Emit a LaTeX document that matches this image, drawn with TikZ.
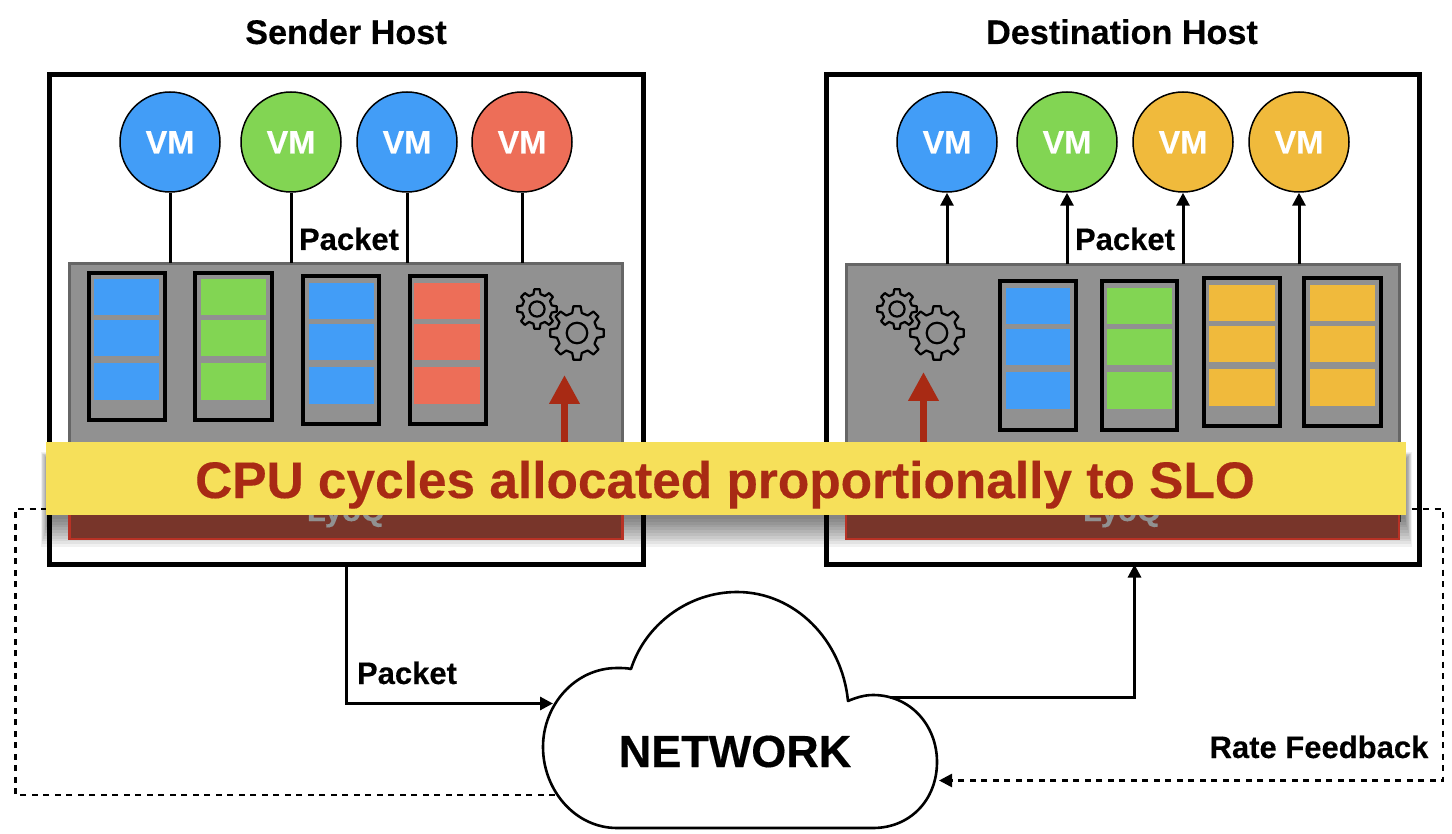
\documentclass[tikz,border=0pt]{standalone}
\usepackage{fontspec}
\setmainfont[BoldFeatures={FakeBold=0.3}]{Liberation Sans}
\usetikzlibrary{arrows.meta}
\definecolor{vmblue}{HTML}{429DF7}
\definecolor{vmgreen}{HTML}{82D553}
\definecolor{vmred}{HTML}{ED6E58}
\definecolor{vmyellow}{HTML}{F0BA3C}
\definecolor{panelgrey}{HTML}{919191}
\definecolor{paneledge}{HTML}{666666}
\definecolor{bandfill}{HTML}{78352A}
\definecolor{bandedge}{HTML}{B83225}
\definecolor{bannerfill}{HTML}{F6E05A}
\definecolor{bannertext}{HTML}{A82A14}
\newcommand{\fs}[1]{\fontsize{#1}{#1}\selectfont\bfseries}
% name, x1, y1, x2, y2, style
\newcommand{\pxbox}[6]{\node[inner sep=0pt,outer sep=0pt,minimum width={(#4)-(#2)},minimum height={(#5)-(#3)},#6] (#1) at ({((#2)+(#4))/2},{((#3)+(#5))/2}) {};}
% queue: name, x1, y1, x2, y2, slot x1, slot x2, top of first slot, colour
\newcommand{\qcol}[9]{%
  \pxbox{#1}{#2}{#3}{#4}{#5}{queuebox}
  \pxbox{#1a}{#6}{#8}{#7}{(#8)+36}{fill=#9}
  \pxbox{#1b}{#6}{(#8)+41}{#7}{(#8)+77}{fill=#9}
  \pxbox{#1c}{#6}{(#8)+84}{#7}{(#8)+121}{fill=#9}
}
% gear: cx, cy, R, teeth
\newcommand{\gearicon}[4]{%
  \pgfmathsetmacro{\gs}{360/#4}
  \draw[gearline] ({#1+0.76*#3*cos(-0.30*\gs)},{#2+0.76*#3*sin(-0.30*\gs)})
    \foreach \i in {1,...,#4} {
      -- ({#1+#3*cos(\i*\gs-\gs-0.17*\gs)},{#2+#3*sin(\i*\gs-\gs-0.17*\gs)})
      -- ({#1+#3*cos(\i*\gs-\gs+0.17*\gs)},{#2+#3*sin(\i*\gs-\gs+0.17*\gs)})
      -- ({#1+0.76*#3*cos(\i*\gs-\gs+0.30*\gs)},{#2+0.76*#3*sin(\i*\gs-\gs+0.30*\gs)})
      -- ({#1+0.76*#3*cos(\i*\gs-0.30*\gs)},{#2+0.76*#3*sin(\i*\gs-0.30*\gs)})
    } -- cycle;
  \draw[gearline] (#1,#2) circle ({0.38*#3});
}
\tikzset{
  hostbox/.style={draw=black,line width=5pt,fill=white,sharp corners},
  panelbox/.style={draw=paneledge,line width=3pt,fill=panelgrey},
  bandbox/.style={draw=bandedge,line width=2.5pt,fill=bandfill},
  queuebox/.style={draw=black,line width=4pt},
  vmnode/.style={circle,draw=black,line width=1.5pt,minimum size=100pt,inner sep=0pt,text=white,font=\fs{32.5},text depth=0pt,text height=23pt},
  label/.style={anchor=base,inner sep=0pt,font=\fs{31}},
  title/.style={anchor=base,inner sep=0pt,font=\fs{34.2}},
  link/.style={draw=black,line width=3pt},
  arrowed/.style={link,-{Triangle[width=13pt,length=13pt]}},
  dashlink/.style={draw=black,line width=2.6pt,dash pattern=on 6pt off 5.5pt},
  redarrow/.style={draw=bannertext,line width=7pt,-{Triangle[width=29pt,length=29pt]}},
  gearline/.style={draw=black,line width=2.2pt,line join=round},
}
\begin{document}
\begin{tikzpicture}[x=1pt,y=-1pt]
\useasboundingbox (0,0) rectangle (1452,834);
\fill[white] (0,0) rectangle (1452,834);
% hosts
\pxbox{hostS}{49.5}{74.5}{643}{564.5}{hostbox}
\pxbox{hostD}{826.5}{74.5}{1419.5}{564.5}{hostbox}
\node[title] (titleS) at (346,44) {Sender Host};
\node[title] (titleD) at (1122,44) {Destination Host};
% panels
\pxbox{panelS}{69.5}{263.5}{622.5}{520}{panelbox}
\pxbox{panelD}{846}{264.5}{1399}{520}{panelbox}
% queues sender
\qcol{qa}{89}{273}{165}{420}{94}{159}{279}{vmblue}
\qcol{qb}{195}{273}{272}{420}{201}{266}{279}{vmgreen}
\qcol{qc}{303}{276}{379}{424}{309}{374}{283}{vmblue}
\qcol{qd}{410}{276}{486}{424}{414}{480}{283}{vmred}
% queues destination
\qcol{qe}{1000}{281}{1076}{430}{1006}{1070}{288}{vmblue}
\qcol{qf}{1102}{281}{1177}{430}{1107}{1172}{288}{vmgreen}
\qcol{qg}{1204}{278}{1280}{426}{1209}{1275}{285}{vmyellow}
\qcol{qh}{1304}{278}{1381}{426}{1310}{1375}{285}{vmyellow}
% gears
\gearicon{537}{309}{20}{8}
\gearicon{577}{333}{27}{8}
\gearicon{897}{309}{20}{8}
\gearicon{937}{333}{27}{8}
% red arrows
\coordinate (redS0) at (564.5,445);
\coordinate (redS1) at (564.5,375);
\coordinate (redD0) at (923.5,445);
\coordinate (redD1) at (923.5,372);
\draw[redarrow] (redS0) -- (redS1);
\draw[redarrow] (redD0) -- (redD1);
% VMs
\node[vmnode,fill=vmblue] (s1) at (170,142) {VM};
\node[vmnode,fill=vmgreen] (s2) at (291,142) {VM};
\node[vmnode,fill=vmblue] (s3) at (407,142) {VM};
\node[vmnode,fill=vmred] (s4) at (522,142) {VM};
\node[vmnode,fill=vmblue] (d1) at (947,142) {VM};
\node[vmnode,fill=vmgreen] (d2) at (1067,142) {VM};
\node[vmnode,fill=vmyellow] (d3) at (1183,142) {VM};
\node[vmnode,fill=vmyellow] (d4) at (1299,142) {VM};
\foreach \v in {s1,s2,s3,s4} \draw[link] (\v.south) -- (\v.south |- panelS.north);
\foreach \v in {d1,d2,d3,d4} \draw[arrowed] (\v.south |- panelD.north) -- (\v.south);
\node[label] (pktS) at (349,250) {Packet};
\node[label] (pktD) at (1125,250) {Packet};
% cloud
\draw[black,line width=2.6pt,fill=white,line join=round] (617,828)
  .. controls (575,828) and (543,790) .. (543,747)
  .. controls (543,705) and (575,668) .. (617,668)
  .. controls (622,668) and (627,668) .. (631,669)
  .. controls (645,625) and (688,592) .. (737,592)
  .. controls (795,592) and (842,640) .. (848,701)
  .. controls (855,698) and (864,695) .. (873,695)
  .. controls (910,695) and (937,725) .. (937,762)
  .. controls (937,800) and (910,828) .. (873,828)
  -- cycle;
\node[anchor=base,inner sep=0pt,font=\fs{45}] (network) at (735,767) {NETWORK};
\coordinate (cloudIn) at (553,703.5);
\coordinate (cloudOut) at (890,697);
\coordinate (cloudDashL) at (555,795);
\coordinate (cloudDashR) at (939,780.5);
\coordinate (sOut) at (346,703.5);
\coordinate (dIn) at (1134.5,697);
\draw[arrowed] (hostS.south -| sOut) -- (sOut) -- (cloudIn);
\draw[arrowed] (cloudOut) -- (dIn) -- (dIn |- hostD.south);
\node[label] (pktN) at (407,684) {Packet};
\node[label] (rate) at (1319,758) {Rate Feedback};
% dashed feedback
\coordinate (dl1) at (15.5,795);
\coordinate (dl2) at (15.5,509);
\coordinate (dl3) at (60,509);
\coordinate (dr1) at (1400,509);
\coordinate (dr2) at (1443,509);
\coordinate (dr3) at (1443,780.5);
\draw[dashlink] (cloudDashL) -- (dl1) -- (dl2) -- (dl3);
\draw[dashlink,-{Triangle[width=13pt,length=13pt]}] (dr1) -- (dr2) -- (dr3) -- (cloudDashR);
% banner shadow
\foreach \i in {0,...,10} {
  \fill[black,opacity=0.055] ({41+\i*0.7},{452+\i*0.8}) rectangle ({1412-\i*0.7},{547-\i*2.8});
}
% LyoQ bands
\pxbox{bandS}{69.5}{505}{622.5}{539}{bandbox}
\pxbox{bandD}{846}{505}{1399}{539}{bandbox}
\node[label,text=panelgrey] (lyoS) at (346,521) {LyoQ};
\node[label,text=panelgrey] (lyoD) at (1122,521) {LyoQ};
% banner
\pxbox{banner}{46}{442}{1406}{515}{fill=bannerfill}
\node[anchor=base,inner sep=0pt,text=bannertext,font=\fs{51.4}] (bannertxt) at (725,498) {CPU cycles allocated proportionally to SLO};
\end{tikzpicture}
\end{document}
